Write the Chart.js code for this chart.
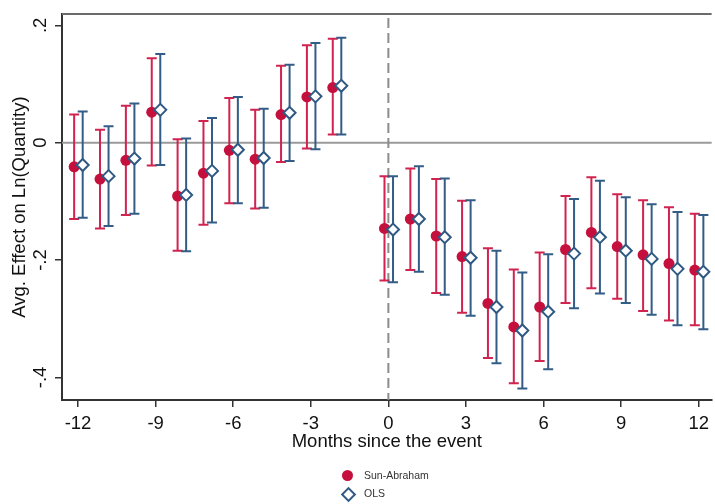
<!DOCTYPE html>
<html>
<head>
<meta charset="utf-8">
<script src="https://cdn.jsdelivr.net/npm/chart.js@4.4.1/dist/chart.umd.min.js"></script>
<style>
  html, body { margin: 0; padding: 0; background: #fff; }
  #wrap { position: relative; width: 715px; height: 504px; }
  #legend .lbl { position: absolute; left: 364px; font: 10.5px "Liberation Sans", Arial, sans-serif; color: #333; line-height: 13px; }
  #legend .dot { position: absolute; left: 342px; top: 470px; width: 11px; height: 11px; border-radius: 50%; background: #c50f3c; }
  #legend .dia { position: absolute; left: 343px; top: 489px; width: 7px; height: 7px; border: 2px solid #2f5a84; background: #fff; transform: rotate(45deg); }
</style>
</head>
<body>
<div id="wrap">
  <canvas id="event-chart" width="715" height="504"></canvas>
  <div id="legend">
    <span class="dot"></span><span class="lbl" style="top:469px">Sun-Abraham</span>
    <span class="dia"></span><span class="lbl" style="top:487px">OLS</span>
  </div>
</div>
<script>
// months relative to the event (-1 is the omitted reference period)
var months = [-12, -11, -10, -9, -8, -7, -6, -5, -4, -3, -2, 0, 1, 2, 3, 4, 5, 6, 7, 8, 9, 10, 11, 12];

// Sun-Abraham estimates and 95% CI
var saEst = [-0.041, -0.062, -0.030, 0.052, -0.091, -0.052, -0.013, -0.028, 0.048, 0.078, 0.094,
             -0.146, -0.130, -0.159, -0.194, -0.274, -0.314, -0.280, -0.182, -0.153, -0.177, -0.191, -0.206, -0.217];
var saHi  = [0.048, 0.022, 0.063, 0.144, 0.006, 0.037, 0.076, 0.056, 0.131, 0.166, 0.177,
             -0.057, -0.044, -0.062, -0.099, -0.180, -0.216, -0.187, -0.091, -0.059, -0.088, -0.098, -0.110, -0.121];
var saLo  = [-0.130, -0.146, -0.123, -0.039, -0.184, -0.140, -0.103, -0.112, -0.033, -0.010, 0.014,
             -0.235, -0.217, -0.256, -0.290, -0.367, -0.410, -0.372, -0.273, -0.248, -0.266, -0.287, -0.303, -0.311];

// OLS estimates and 95% CI
var olsEst = [-0.038, -0.057, -0.027, 0.056, -0.089, -0.048, -0.012, -0.026, 0.051, 0.079, 0.097,
              -0.148, -0.130, -0.161, -0.196, -0.280, -0.320, -0.288, -0.189, -0.161, -0.184, -0.198, -0.215, -0.220];
var olsHi  = [0.053, 0.028, 0.067, 0.151, 0.007, 0.042, 0.078, 0.058, 0.133, 0.170, 0.179,
              -0.057, -0.040, -0.061, -0.098, -0.184, -0.221, -0.190, -0.096, -0.065, -0.093, -0.105, -0.118, -0.123];
var olsLo  = [-0.128, -0.142, -0.121, -0.038, -0.185, -0.136, -0.103, -0.111, -0.031, -0.011, 0.014,
              -0.238, -0.220, -0.259, -0.295, -0.376, -0.419, -0.386, -0.282, -0.257, -0.273, -0.293, -0.311, -0.318];

var xTicks = [-12, -9, -6, -3, 0, 3, 6, 9, 12];
var yTicks = [-0.4, -0.2, 0, 0.2];
var yTickLabels = ['-.4', '-.2', '0', '.2'];

var red = '#c50f3c', redBar = '#d0234f';
var blue = '#2f5a84', blueBar = '#335d86';
var fontFam = '"Liberation Sans", Arial, sans-serif';
var fontSize = 18.5;

function points(est, shift) {
  return months.map(function (m, i) { return { x: m + shift, y: est[i] }; });
}

// reference lines + frame
var refLines = {
  id: 'refLines',
  beforeDatasetsDraw: function (chart) {
    var ctx = chart.ctx, a = chart.chartArea;
    var xs = chart.scales.x, ys = chart.scales.y;
    ctx.save();
    // top frame
    ctx.strokeStyle = '#6b6b6b';
    ctx.lineWidth = 2;
    ctx.beginPath(); ctx.moveTo(a.left, a.top); ctx.lineTo(a.right, a.top); ctx.stroke();
    // zero line
    var y0 = ys.getPixelForValue(0);
    ctx.strokeStyle = '#9a9a9a';
    ctx.beginPath(); ctx.moveTo(a.left, y0); ctx.lineTo(a.right, y0); ctx.stroke();
    // event line
    var x0 = xs.getPixelForValue(0);
    ctx.strokeStyle = '#8c8c8c';
    ctx.setLineDash([10, 5]);
    ctx.beginPath(); ctx.moveTo(x0, a.top + 4); ctx.lineTo(x0, a.bottom); ctx.stroke();
    ctx.restore();
  }
};

// capped error bars
var errorBars = {
  id: 'errorBars',
  beforeDatasetsDraw: function (chart) {
    var ctx = chart.ctx, ys = chart.scales.y;
    chart.data.datasets.forEach(function (ds, di) {
      var meta = chart.getDatasetMeta(di);
      ctx.save();
      ctx.strokeStyle = ds.barColor;
      ctx.lineWidth = 2;
      meta.data.forEach(function (pt, i) {
        var yt = ys.getPixelForValue(ds.ciHi[i]);
        var yb = ys.getPixelForValue(ds.ciLo[i]);
        ctx.beginPath();
        ctx.moveTo(pt.x, yt); ctx.lineTo(pt.x, yb);
        ctx.moveTo(pt.x - 5, yt); ctx.lineTo(pt.x + 5, yt);
        ctx.moveTo(pt.x - 5, yb); ctx.lineTo(pt.x + 5, yb);
        ctx.stroke();
      });
      ctx.restore();
    });
  }
};

var ctx = document.getElementById('event-chart').getContext('2d');
var myChart = new Chart(ctx, {
  type: 'scatter',
  data: {
    datasets: [{
      label: 'Sun-Abraham',
      data: points(saEst, -0.15),
      ciLo: saLo, ciHi: saHi, barColor: redBar,
      pointStyle: 'circle',
      pointRadius: 5.5,
      backgroundColor: red,
      borderColor: red,
      borderWidth: 0,
      order: 2
    }, {
      label: 'OLS',
      data: points(olsEst, 0.18),
      ciLo: olsLo, ciHi: olsHi, barColor: blueBar,
      pointStyle: 'rectRot',
      pointRadius: 6,
      backgroundColor: '#ffffff',
      borderColor: blue,
      borderWidth: 2,
      order: 1
    }]
  },
  plugins: [refLines, errorBars],
  options: {
    responsive: false,
    animation: false,
    devicePixelRatio: 1,
    layout: { autoPadding: false, padding: { top: 10, right: 0, bottom: 0, left: 0 } },
    plugins: {
      legend: { display: false },
      tooltip: { enabled: false }
    },
    scales: {
      x: {
        type: 'linear',
        min: -12.62,
        max: 12.5,
        afterBuildTicks: function (s) { s.ticks = xTicks.map(function (v) { return { value: v }; }); },
        afterFit: function (s) { s.height = 104; },
        ticks: { font: { family: fontFam, size: fontSize }, color: '#111', padding: 6, maxRotation: 0 },
        grid: { display: true, drawOnChartArea: false, drawTicks: true, tickLength: 7, color: '#333', lineWidth: 1.5 },
        border: { display: true, color: '#333', width: 2 },
        title: {
          display: true,
          text: 'Months since the event',
          font: { family: fontFam, size: fontSize },
          color: '#111',
          padding: { top: 0, bottom: 51 }
        }
      },
      y: {
        type: 'linear',
        min: -0.4385,
        max: 0.2192,
        afterBuildTicks: function (s) { s.ticks = yTicks.map(function (v) { return { value: v }; }); },
        afterFit: function (s) { s.width = 62; },
        ticks: {
          font: { family: fontFam, size: fontSize },
          color: '#111',
          padding: 3,
          minRotation: 90,
          maxRotation: 90,
          crossAlign: 'center',
          callback: function (v) { return yTickLabels[yTicks.indexOf(v)]; }
        },
        grid: { display: true, drawOnChartArea: false, drawTicks: true, tickLength: 7, color: '#333', lineWidth: 1.5 },
        border: { display: true, color: '#333', width: 2 },
        title: {
          display: true,
          text: 'Avg. Effect on Ln(Quantity)',
          font: { family: fontFam, size: fontSize },
          color: '#111',
          padding: { top: 9, bottom: 0 }
        }
      }
    }
  }
});
</script>
</body>
</html>
